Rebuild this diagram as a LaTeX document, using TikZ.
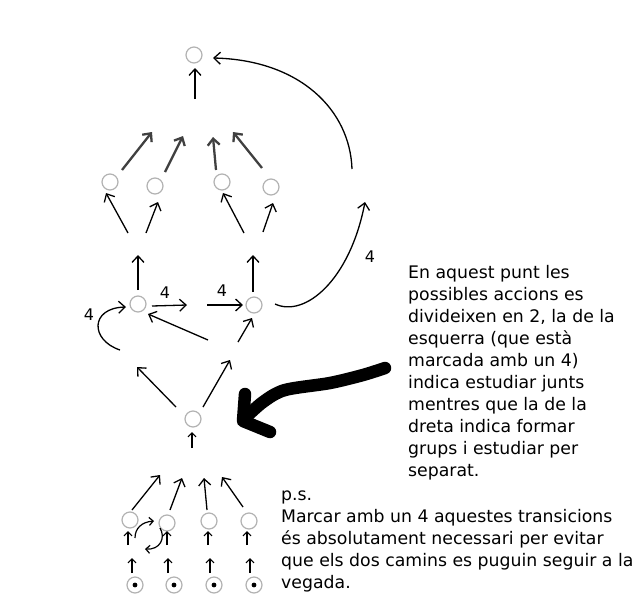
\documentclass[tikz,border=0pt]{standalone}
\usepackage{fontspec}
\setmainfont{DejaVu Sans}
\usetikzlibrary{arrows.meta}

\begin{document}
\begin{tikzpicture}[x=1pt,y=-1pt,
	state/.style={circle,draw=black!30,line width=1.2pt,minimum size=16pt,inner sep=0pt},
	start/.style={state,path picture={\fill[black] (path picture bounding box.center) circle (2.4pt);}},
	arr/.style={line width=1.3pt,-{Straight Barb[length=6.5pt,width=12pt]}},
	heavy/.style={arr,line width=2.3pt,black!75},
	small/.style={line width=1.2pt,-{Straight Barb[length=4pt,width=8pt]}},
	four/.style={font=\fontsize{16}{18}\selectfont},
	note/.style={font=\fontsize{17.3}{22}\selectfont,align=left,inner sep=0pt,anchor=north west}]
		\useasboundingbox (0,0) rectangle (640,600);
		% states
		\node[state] (top) at (194,55) {};
		\node[state] (a1) at (110,182) {};
		\node[state] (a2) at (155,186) {};
		\node[state] (a3) at (222,182) {};
		\node[state] (a4) at (271,187) {};
		\node[state] (left) at (138,304) {};
		\node[state] (right) at (254,305) {};
		\node[state] (mid) at (193,419) {};
		\node[state] (b1) at (130,520) {};
		\node[state] (b2) at (167,523) {};
		\node[state] (b3) at (209,521) {};
		\node[state] (b4) at (249,521) {};
		\node[start] (s1) at (135,585) {};
		\node[start] (s2) at (174,585) {};
		\node[start] (s3) at (214,585) {};
		\node[start] (s4) at (254,585) {};
		% top part
		\draw[arr] (195,99) -- (195,68);
		\draw[heavy] (122,170) -- (152,132);
		\draw[heavy] (165,172) -- (183,136);
		\draw[heavy] (216,170) -- (213,137);
		\draw[heavy] (262,168) -- (233,132);
		\draw[arr] (128,233) -- (106,193);
		\draw[arr] (146,233) -- (158,202);
		\draw[arr] (244,233) -- (223,193);
		\draw[arr] (263,232) -- (273,203);
		\draw[arr] (352,169) .. controls (350,110) and (300,60) .. (213,58);
		% middle part
		\draw[arr] (138,290) -- (138,255);
		\draw[arr] (253,292) -- (253,255);
		\draw[arr] (152,306) -- (187,305);
		\draw[arr] (207,305) -- (243,305);
		\node at (165,293) [four] {4};
		\node at (222,291) [four] {4};
		\draw[arr] (120,350) .. controls (90,340) and (90,308) .. (126,307);
		\node at (89,315) [four] {4};
		\draw[arr] (275,304) .. controls (305,318) and (350,280) .. (365,202);
		\node at (370,257) [four] {4};
		\draw[arr] (208,340) -- (148,314);
		\draw[arr] (238,342) -- (252,318);
		\draw[arr] (176,407) -- (137,367);
		\draw[arr] (203,407) -- (230,360);
		\draw[small] (192,448) -- (192,432);
		% big pointer
		\draw[line width=12.5pt,line cap=round,line join=round] plot[smooth] coordinates {(385,368) (363,375) (330,383) (285,390) (263,402) (244,419)};
		\draw[line width=12.5pt,line cap=round,line join=round] (245,394) -- (243,421) -- (270,432);
		% bottom part
		\draw[arr] (132,510) -- (160,475);
		\draw[arr] (170,510) -- (182,478);
		\draw[arr] (207,510) -- (204,478);
		\draw[arr] (243,507) -- (222,477);
		\foreach \x in {128,167,208,247}
			\draw[small] (\x,545) -- (\x,531);
		\foreach \x in {132,168,210,250}
			\draw[small] (\x,573) -- (\x,558);
		\draw[small] (135,538) .. controls (135,528) and (142,522) .. (154,521);
		\draw[small] (160,528) .. controls (166,538) and (160,550) .. (145,549);
		% notes
		\node[note] (expl) at (408,265) {En aquest punt les\\possibles accions es\\divideixen en 2, la de la\\esquerra (que està\\marcada amb un 4)\\indica estudiar junts\\mentres que la de la\\dreta indica formar\\grups i estudiar per\\separat.};
		\node[note] (ps) at (281,490.5) {p.s.\\Marcar amb un 4 aquestes transicions\\és absolutament necessari per evitar\\que els dos camins es puguin seguir a la\\vegada.};
	\end{tikzpicture}
\end{document}
